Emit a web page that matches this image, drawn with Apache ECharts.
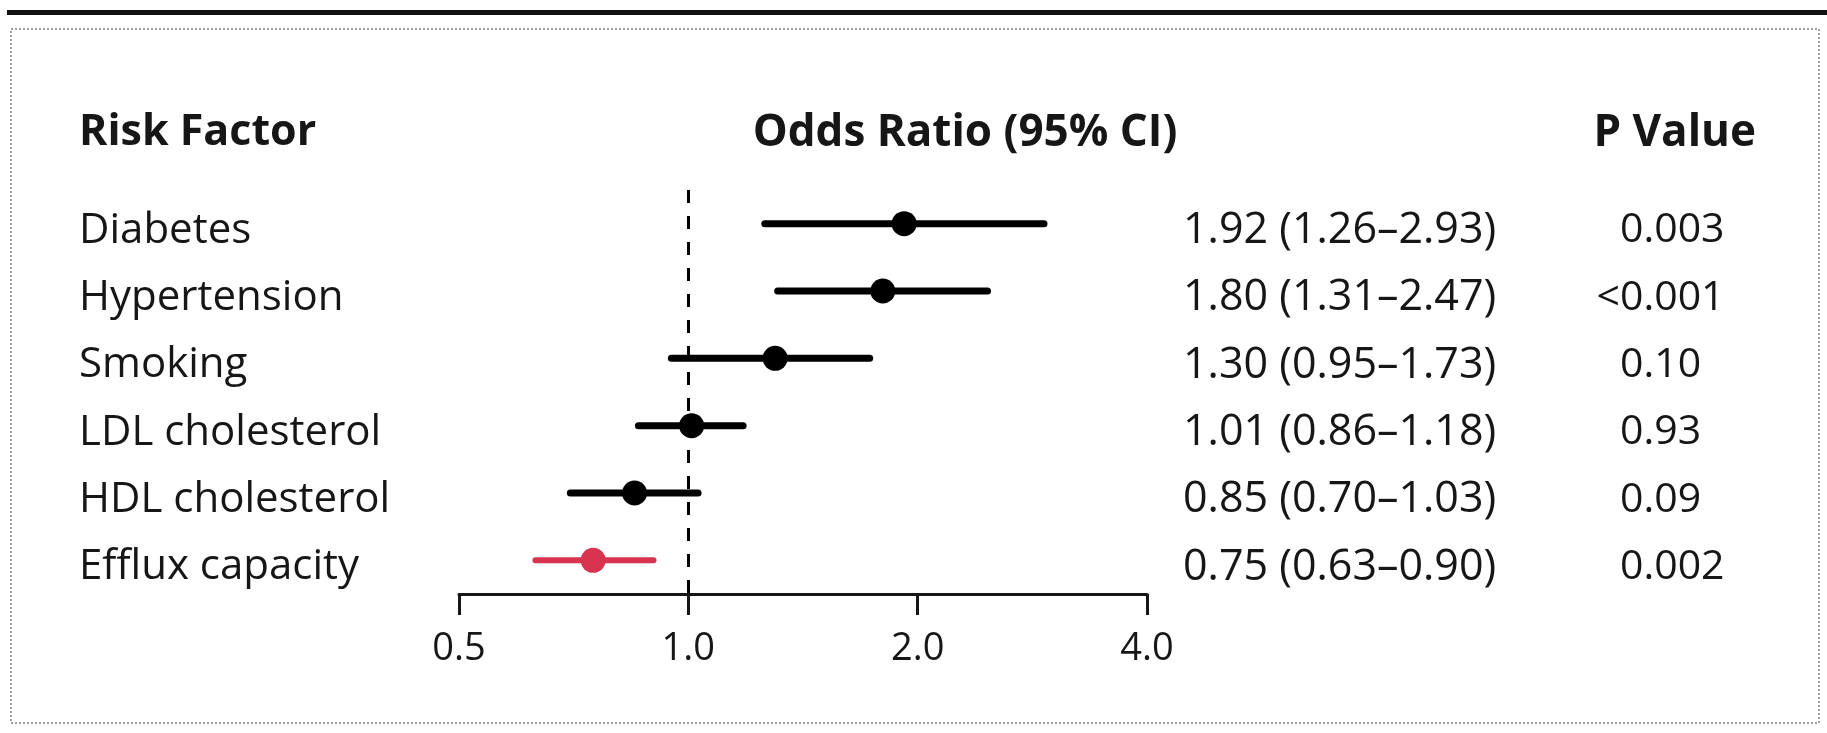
<!DOCTYPE html>
<html>
<head>
<meta charset="utf-8">
<script src="https://cdn.jsdelivr.net/npm/echarts@6/dist/echarts.min.js"></script>
<style>
html,body{margin:0;padding:0;background:#fff;}
#chart{width:1827px;height:733px;}
</style>
</head>
<body>
<div id="chart"></div>
<script>
const categories = ['Diabetes', 'Hypertension', 'Smoking', 'LDL cholesterol', 'HDL cholesterol', 'Efflux capacity'];
const oddsRatio = [1.92, 1.80, 1.30, 1.01, 0.85, 0.75];
const ciLow = [1.26, 1.31, 0.95, 0.86, 0.70, 0.63];
const ciHigh = [2.93, 2.47, 1.73, 1.18, 1.03, 0.90];
const pValues = ['0.003', '<0.001', '0.10', '0.93', '0.09', '0.002'];
const xTicks = [0.5, 1.0, 2.0, 4.0];
const highlightRow = 'Efflux capacity';

const FONT = '"Open Sans", "Noto Sans", sans-serif';
const INK = '#161616';
const RED = '#d8334f';

const ciText = categories.map((c, i) =>
  oddsRatio[i].toFixed(2) + ' (' + ciLow[i].toFixed(2) + '\u2013' + ciHigh[i].toFixed(2) + ')');

const chart = echarts.init(document.getElementById('chart'), null, {renderer: 'canvas'});

function catAxis(extra) {
  return Object.assign({
    type: 'category',
    data: categories,
    inverse: true,
    gridIndex: 0,
    axisLine: {show: false},
    axisTick: {show: false},
    splitLine: {show: false}
  }, extra);
}

const rowText = {fontFamily: FONT, color: INK, verticalAlign: 'top', lineHeight: 14};

const option = {
  animation: false,
  backgroundColor: '#fff',
  grid: {left: 459, width: 688, top: 190, height: 404, containLabel: false},
  xAxis: {
    type: 'log',
    logBase: 2,
    min: xTicks[0],
    max: xTicks[xTicks.length - 1],
    interval: 1,
    axisLine: {show: true, lineStyle: {color: INK, width: 3}},
    axisTick: {show: true, length: 21, lineStyle: {color: INK, width: 3}},
    splitLine: {show: false},
    minorTick: {show: false},
    axisLabel: {
      margin: 36,
      fontFamily: FONT,
      fontSize: 38,
      color: INK,
      formatter: v => Number(v).toFixed(1)
    }
  },
  yAxis: [
    catAxis({
      position: 'left',
      axisLabel: Object.assign({interval: 0, align: 'left', margin: 380, fontSize: 42}, rowText)
    }),
    catAxis({
      position: 'right',
      axisLabel: Object.assign({interval: 0, align: 'left', margin: 36, fontSize: 43,
        formatter: (v, i) => ciText[i]}, rowText)
    }),
    catAxis({
      position: 'right',
      axisLabel: Object.assign({interval: 0, align: 'left', margin: 473, fontSize: 41,
        formatter: (v, i) => pValues[i].replace('<', '')}, rowText)
    }),
    catAxis({
      position: 'right',
      axisLabel: Object.assign({interval: 0, align: 'right', margin: 473, fontSize: 41,
        formatter: (v, i) => (pValues[i].charAt(0) === '<' ? '<' : '')}, rowText)
    })
  ],
  series: [
    {
      type: 'custom',
      xAxisIndex: 0,
      yAxisIndex: 0,
      encode: {x: [0, 1], y: 2},
      data: categories.map((c, i) => [ciLow[i], ciHigh[i], c]),
      renderItem: function (params, api) {
        const yi = api.value(2);
        const p1 = api.coord([api.value(0), yi]);
        const p2 = api.coord([api.value(1), yi]);
        const hl = categories[params.dataIndex] === highlightRow;
        return {
          type: 'line',
          shape: {x1: p1[0], y1: p1[1], x2: p2[0], y2: p2[1]},
          style: {stroke: hl ? RED : '#000', lineWidth: hl ? 6 : 7, lineCap: 'round'}
        };
      },
      z: 2
    },
    {
      type: 'scatter',
      xAxisIndex: 0,
      yAxisIndex: 0,
      symbol: 'circle',
      symbolSize: 25,
      data: categories.map((c, i) => ({
        value: [oddsRatio[i], c],
        itemStyle: {color: c === highlightRow ? RED : '#000', opacity: 1}
      })),
      itemStyle: {opacity: 1},
      z: 3,
      markLine: {
        silent: true,
        symbol: ['none', 'none'],
        label: {show: false},
        lineStyle: {color: '#000', width: 3, type: [13, 13], opacity: 1},
        data: [{xAxis: 1}],
        z: 1
      }
    }
  ],
  graphic: [
    {type: 'rect', shape: {x: 7, y: 10, width: 1820, height: 5}, style: {fill: '#111'}, silent: true},
    {type: 'rect', shape: {x: 11, y: 29, width: 1808, height: 694},
      style: {fill: 'none', stroke: '#a0a0a0', lineWidth: 2, lineDash: [2, 2]}, silent: true},
    {type: 'text', x: 79, y: 133,
      style: {text: 'Risk Factor', font: 'bold 43px ' + FONT, fill: INK, align: 'left', verticalAlign: 'middle'}},
    {type: 'text', x: 965, y: 133,
      style: {text: 'Odds Ratio (95% CI)', font: 'bold 44px ' + FONT, fill: INK, align: 'center', verticalAlign: 'middle'}},
    {type: 'text', x: 1756, y: 133,
      style: {text: 'P Value', font: 'bold 44px ' + FONT, fill: INK, align: 'right', verticalAlign: 'middle'}}
  ]
};
chart.setOption(option);
</script>
</body>
</html>
